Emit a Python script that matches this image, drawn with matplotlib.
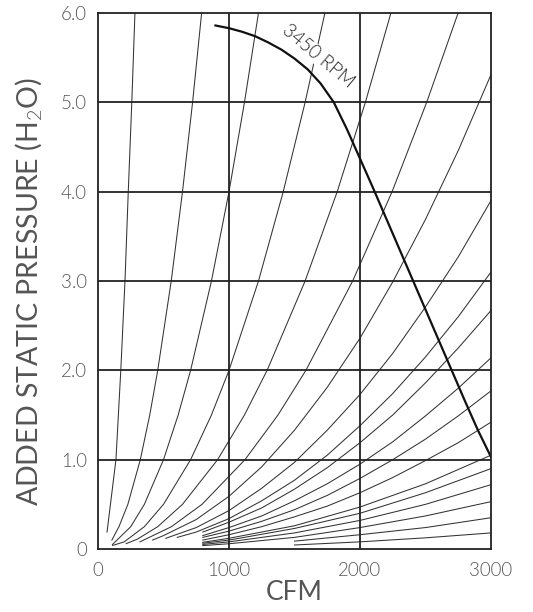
import matplotlib
matplotlib.use("Agg")
import matplotlib.pyplot as plt

plt.rcParams["font.family"] = ["Lato", "DejaVu Sans"]
plt.rcParams["font.weight"] = 300
plt.rcParams["mathtext.fontset"] = "custom"
plt.rcParams["mathtext.rm"] = "Lato:weight=300"

# fan curve (3450 RPM)
fan_cfm = [897, 1000, 1100, 1200, 1300, 1400, 1500, 1600, 1700, 1800, 1900, 2000,
           2100, 2200, 2300, 2400, 2500, 2600, 2700, 2800, 2900, 3000]
fan_sp = [5.86, 5.83, 5.79, 5.74, 5.67, 5.59, 5.49, 5.37, 5.21, 5.00, 4.70, 4.37,
          4.04, 3.70, 3.36, 3.02, 2.68, 2.34, 2.00, 1.66, 1.33, 1.03]

# system curves leaving through the top of the chart
a_cfm = [69, 137, 174, 206, 231, 258, 282]
a_sp = [0.19, 1.0, 2.0, 3.0, 4.0, 5.0, 6.0]
b_cfm = [106, 160, 228, 323, 395, 456, 559, 645, 722, 791]
b_sp = [0.10, 0.25, 0.5, 1.0, 1.5, 2.0, 3.0, 4.0, 5.0, 6.0]
c_cfm = [110, 250, 354, 500, 612, 707, 866, 1000, 1118, 1225]
c_sp = [0.05, 0.25, 0.5, 1.0, 1.5, 2.0, 3.0, 4.0, 5.0, 6.0]
d_cfm = [112, 200, 354, 500, 707, 866, 1000, 1225, 1414, 1581, 1732]
d_sp = [0.04, 0.08, 0.25, 0.5, 1.0, 1.5, 2.0, 3.0, 4.0, 5.0, 6.0]
e_cfm = [215, 300, 456, 645, 913, 1118, 1291, 1581, 1826, 2041, 2236]
e_sp = [0.06, 0.11, 0.25, 0.5, 1.0, 1.5, 2.0, 3.0, 4.0, 5.0, 6.0]
f_cfm = [320, 561, 794, 1122, 1374, 1587, 1944, 2245, 2509, 2749]
f_sp = [0.08, 0.25, 0.5, 1.0, 1.5, 2.0, 3.0, 4.0, 5.0, 6.0]

# system curves leaving through the right edge
g_cfm = [417, 500, 750, 1000, 1250, 1500, 1750, 2000, 2250, 2500, 2750, 3000]
g_sp = [0.10, 0.15, 0.33, 0.59, 0.92, 1.33, 1.81, 2.36, 2.99, 3.69, 4.46, 5.31]
h_cfm = [518, 750, 1000, 1250, 1500, 1750, 2000, 2250, 2500, 2750, 3000]
h_sp = [0.12, 0.24, 0.43, 0.68, 0.97, 1.33, 1.73, 2.19, 2.71, 3.27, 3.90]
i_cfm = [605, 750, 1000, 1250, 1500, 1750, 2000, 2250, 2500, 2750, 3000]
i_sp = [0.13, 0.19, 0.34, 0.54, 0.77, 1.05, 1.38, 1.74, 2.15, 2.60, 3.10]
j_cfm = [800, 1000, 1250, 1500, 1750, 2000, 2250, 2500, 2750, 3000]
j_sp = [0.19, 0.30, 0.46, 0.67, 0.91, 1.19, 1.50, 1.86, 2.25, 2.67]
k_cfm = [800, 1000, 1250, 1500, 1750, 2000, 2250, 2500, 2750, 3000]
k_sp = [0.15, 0.24, 0.37, 0.54, 0.73, 0.95, 1.20, 1.49, 1.80, 2.14]
l_cfm = [800, 1000, 1250, 1500, 1750, 2000, 2250, 2500, 2750, 3000]
l_sp = [0.13, 0.20, 0.31, 0.44, 0.60, 0.79, 1.00, 1.23, 1.49, 1.77]
m_cfm = [800, 1000, 1250, 1500, 1750, 2000, 2250, 2500, 2750, 3000]
m_sp = [0.10, 0.16, 0.25, 0.36, 0.48, 0.63, 0.80, 0.99, 1.19, 1.42]
n_cfm = [800, 1000, 1500, 2000, 2500, 3000]
n_sp = [0.075, 0.12, 0.26, 0.47, 0.73, 1.05]
o_cfm = [800, 1000, 1500, 2000, 2500, 3000]
o_sp = [0.064, 0.10, 0.23, 0.40, 0.63, 0.90]
p_cfm = [800, 1000, 1500, 2000, 2500, 3000]
p_sp = [0.051, 0.08, 0.18, 0.32, 0.50, 0.72]
q_cfm = [800, 1000, 1500, 2000, 2500, 3000]
q_sp = [0.038, 0.059, 0.13, 0.24, 0.37, 0.53]
r_cfm = [1500, 2000, 2500, 3000]
r_sp = [0.088, 0.16, 0.24, 0.35]
s_cfm = [1500, 2000, 2500, 3000]
s_sp = [0.045, 0.08, 0.125, 0.18]

x_ticks = [0, 1000, 2000, 3000]
x_labels = ["0", "1000", "2000", "3000"]
y_ticks = [0, 1, 2, 3, 4, 5, 6]
y_labels = ["0", "1.0", "2.0", "3.0", "4.0", "5.0", "6.0"]

fig = plt.figure(figsize=(5.33, 6.12), dpi=100)
ax = fig.add_axes([98 / 533, 1 - 549 / 612, 393 / 533, 536 / 612])

curves = [(a_cfm, a_sp), (b_cfm, b_sp), (c_cfm, c_sp), (d_cfm, d_sp), (e_cfm, e_sp),
          (f_cfm, f_sp), (g_cfm, g_sp), (h_cfm, h_sp), (i_cfm, i_sp), (j_cfm, j_sp),
          (k_cfm, k_sp), (l_cfm, l_sp), (m_cfm, m_sp), (n_cfm, n_sp), (o_cfm, o_sp),
          (p_cfm, p_sp), (q_cfm, q_sp), (r_cfm, r_sp), (s_cfm, s_sp)]
for cfm, sp in curves:
    ax.plot(cfm, sp, color="#333333", lw=0.75, zorder=2)

# fan curve on top
ax.plot(fan_cfm, fan_sp, color="#111111", lw=1.6, zorder=5)
ax.text(1680, 5.52, "3450 RPM", rotation=-40, rotation_mode="anchor",
        ha="center", va="center", fontsize=13.5, color="#222222", zorder=4,
        bbox=dict(facecolor="white", edgecolor="none", pad=0.3))

# grid
for gx in [1000, 2000]:
    ax.axvline(gx, color="#222222", lw=1.3, zorder=3)
for gy in [1, 2, 3, 4, 5]:
    ax.axhline(gy, color="#222222", lw=1.3, zorder=3)

ax.set_xlim(0, 3000)
ax.set_ylim(0, 6)
ax.set_xticks(x_ticks)
ax.set_xticklabels(x_labels)
ax.set_yticks(y_ticks)
ax.set_yticklabels(y_labels)
ax.tick_params(length=0, labelsize=13.5, labelcolor="#555555")
ax.tick_params(axis="x", pad=9)
ax.tick_params(axis="y", pad=8)
for sp_ in ax.spines.values():
    sp_.set_color("#222222")
    sp_.set_linewidth(1.3)
    sp_.set_zorder(6)

ax.set_xlabel("CFM", fontsize=19, color="#555555")
ax.xaxis.set_label_coords(0.5, -0.058)
ax.xaxis.label.set_va("top")
ax.set_ylabel("ADDED STATIC PRESSURE (H$_2$O)", fontsize=20.5, color="#555555")
ax.yaxis.set_label_coords(-0.135, 0.48)

plt.savefig("out.png", dpi=100)
